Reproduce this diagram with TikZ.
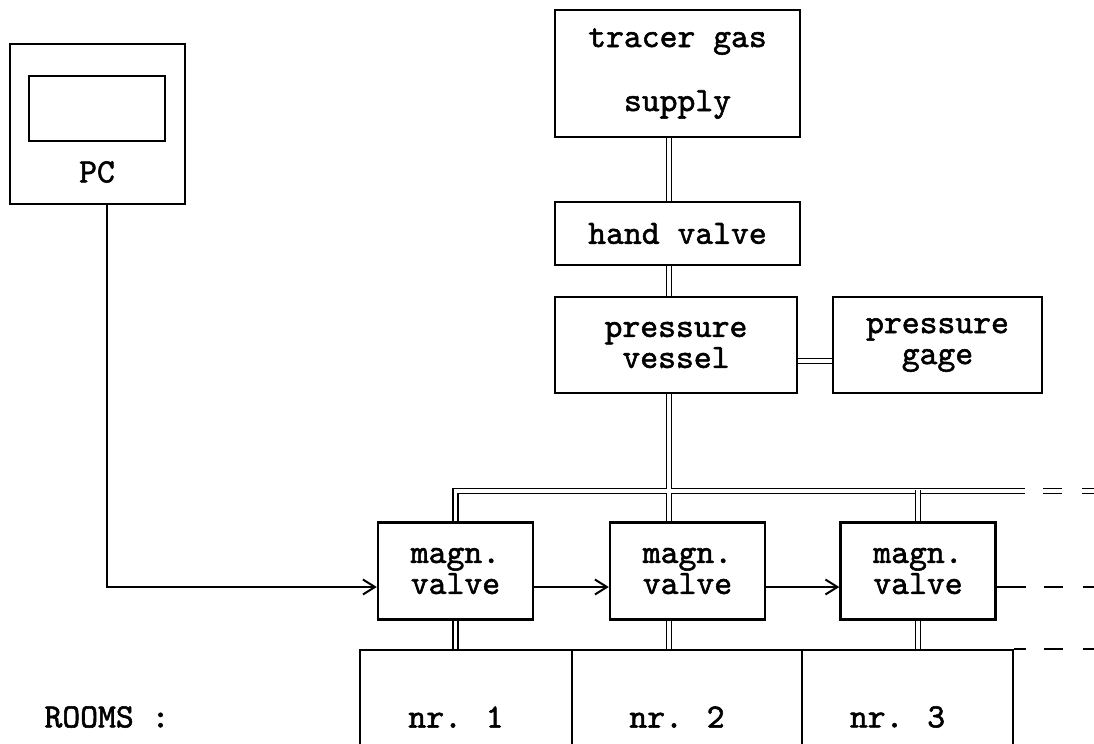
\documentclass[tikz,border=0pt]{standalone}
\usepackage{fontspec}
\newfontfamily\diagfont[FakeBold=1.6]{lmmono10-regular.otf}
\usepackage{tikz}
\usetikzlibrary{arrows.meta,calc,positioning}
\newcommand{\magnvalve}[2]{%
  \node[unitbox,minimum width=77.5pt,minimum height=48.5pt] (#1) at (#2,571) {magn.\\valve};%
}
\newcommand{\roomcell}[4]{%
  \node[unitbox,minimum width=#3,minimum height=67pt,
    label={[plain,xshift=-5pt]center:#4}] (#1) at (#2,717) {};%
}
\begin{document}
\begin{tikzpicture}[x=0.5pt,y=-0.5pt,
  unitbox/.style={draw,line width=1.2pt,align=center,inner sep=0pt,
    font=\diagfont\fontsize{17pt}{15.5pt}\selectfont},
  plain/.style={inner sep=0pt,font=\diagfont\fontsize{17pt}{15.5pt}\selectfont},
  pipe/.style={double,line width=0.8pt,double distance=1.6pt},
  pipecore/.style={white,line width=1.6pt},
  signal/.style={line width=1pt},
  sigarrow/.style={line width=1pt,-{Straight Barb[length=6pt,width=7.5pt]}},
  dashend/.style={dash pattern=on 9.5pt off 10pt,dash phase=10.5pt}]
  \useasboundingbox (0,0) rectangle (1094,744);
  \clip (0,0) rectangle (1094,744);
  \node[unitbox,minimum width=87.5pt,minimum height=80pt] (pc) at (97.5,124) {};
  \node[draw,line width=1.2pt,minimum width=68pt,minimum height=32.5pt] (pcscreen) at (97,108.5) {};
  \node[plain] (pclabel) at (97,172) {PC};
  \node[unitbox,minimum width=122.5pt,minimum height=63.5pt] (tracer) at (677.5,73.5) {tracer gas\\[16.5pt]supply};
  \node[unitbox,minimum width=122.5pt,minimum height=31.5pt] (hand) at (677.5,233.5) {hand valve};
  \node[unitbox,minimum width=121pt,minimum height=48pt] (vessel) at (676,345) {pressure\\vessel};
  \node[unitbox,minimum width=104.5pt,minimum height=48pt] (gage) at (937.5,345) {pressure\\gage};
  \magnvalve{v1}{455.5}
  \magnvalve{v2}{687.5}
  \magnvalve{v3}{918}
  \node[plain] (rooms) at (107,717) {ROOMS :};
  \roomcell{r1}{466}{106pt}{nr. 1}
  \roomcell{r2}{687}{115pt}{nr. 2}
  \roomcell{r3}{907.5}{105.5pt}{nr. 3}
  \coordinate (mainx) at (669,0);
  \coordinate (hend) at (1025,491);
  \coordinate (hjoin) at (hend -| mainx);
  \draw[pipe] (tracer.south -| mainx) -- (hand.north -| mainx);
  \draw[pipe] (hand.south -| mainx) -- (vessel.north -| mainx);
  \draw[pipe] ([yshift=-8pt]vessel.east) -- ([yshift=-8pt]vessel.east -| gage.west);
  \draw[pipe] (v1.north) |- (hend);
  \draw[pipe,dashend] (hend) -- ++(100,0);
  \draw[pipe] (vessel.south -| mainx) -- (v2.north -| mainx);
  \draw[pipecore] ([xshift=-2.5pt]hjoin) -- ([xshift=2.5pt]hjoin);
  \draw[pipe] ($(hend -| v3.north)+(0,-0.8)$) -- (v3.north);
  \draw[pipe] (v1.south) -- (v1.south |- r1.north);
  \draw[pipe] (v2.south -| mainx) -- (r2.north -| mainx);
  \draw[pipe] (v3.south) -- (v3.south |- r3.north);
  \draw[sigarrow] ([xshift=4.75pt]pc.south) |- ([yshift=-8pt]v1.west);
  \draw[sigarrow] ([yshift=-8pt]v1.east) -- ([yshift=-8pt]v2.west);
  \draw[sigarrow] ([yshift=-8pt]v2.east) -- ([yshift=-8pt]v3.west);
  \draw[signal] ([yshift=-8pt]v3.east) -- ++(29,0) coordinate (send);
  \draw[signal,dashend] (send) -- ++(100,0);
  \draw[line width=1.2pt] (r3.north east) -- ++(12,0) coordinate (rend);
  \draw[line width=1.2pt,dashend] (rend) -- ++(100,0);
\end{tikzpicture}
\end{document}
